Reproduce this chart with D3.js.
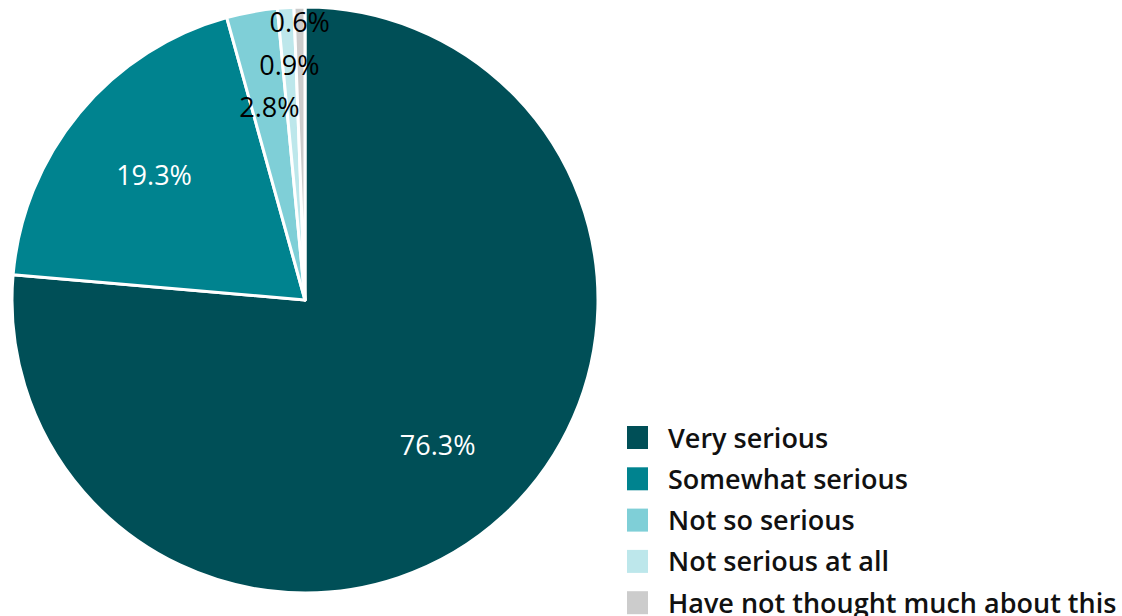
<!DOCTYPE html>
<html>
<head>
<meta charset="utf-8">
<script src="https://cdn.jsdelivr.net/npm/d3@7"></script>
<style>
  html, body { margin: 0; padding: 0; background: #fff; }
  svg { display: block; font-family: "Open Sans", sans-serif; }
</style>
</head>
<body>
<svg id="chart" width="1122" height="616"></svg>
<script>
// chart data
const categories = ['Very serious', 'Somewhat serious', 'Not so serious', 'Not serious at all', 'Have not thought much about this'];
const shares = [76.3, 19.3, 2.8, 0.9, 0.6];
const colors = ['#004f57', '#00838f', '#7fcfd7', '#bde7eb', '#cccccc'];
const labelColors = ['#fff', '#fff', '#000', '#000', '#000'];

const svg = d3.select('#chart');
const cx = 305, cy = 300, radius = 293;

const pie = d3.pie().sort(null).value(d => d.value);
const arcs = pie(categories.map((c, i) => ({ name: c, value: shares[i], i })));

const arc = d3.arc().innerRadius(0).outerRadius(radius);

const g = svg.append('g').attr('transform', `translate(${cx},${cy})`);

g.selectAll('path.slice')
  .data(arcs)
  .join('path')
  .attr('class', 'slice')
  .attr('d', arc)
  .attr('fill', d => colors[d.data.i])
  .attr('stroke', '#fff')
  .attr('stroke-width', 3)
  .attr('stroke-linejoin', 'round');

// labels — small slices get pushed outward so they don't pile up
const placed = [];
const minGap = 42;
arcs.forEach(d => {
  const mid = (d.startAngle + d.endAngle) / 2;
  let r = radius * 0.67;
  let x = Math.sin(mid) * r, y = -Math.cos(mid) * r;
  while (placed.some(p => Math.abs(p.y - y) < minGap && Math.abs(p.x - x) < 80) && r < radius * 1.2) {
    r += 2;
    x = Math.sin(mid) * r; y = -Math.cos(mid) * r;
  }
  placed.push({ x, y, d });
});

g.selectAll('text.lbl')
  .data(placed)
  .join('text')
  .attr('class', 'lbl')
  .attr('x', p => p.x)
  .attr('y', p => p.y)
  .attr('text-anchor', 'middle')
  .attr('dominant-baseline', 'central')
  .attr('font-size', 27)
  .attr('fill', p => labelColors[p.d.data.i])
  .text(p => d3.format('.1f')(p.d.data.value) + '%');

// legend
const legend = svg.append('g').attr('transform', 'translate(627,437)');
const rowH = 41.3;
const rows = legend.selectAll('g.row')
  .data(categories)
  .join('g')
  .attr('class', 'row')
  .attr('transform', (d, i) => `translate(0,${i * rowH})`);

rows.append('rect')
  .attr('x', 0).attr('y', -11)
  .attr('width', 21).attr('height', 23)
  .attr('fill', (d, i) => colors[i]);

rows.append('text')
  .attr('x', 41).attr('y', 0)
  .attr('dominant-baseline', 'central')
  .attr('font-size', 27)
  .attr('font-weight', 600)
  .attr('fill', '#111')
  .text(d => d);
</script>
</body>
</html>
